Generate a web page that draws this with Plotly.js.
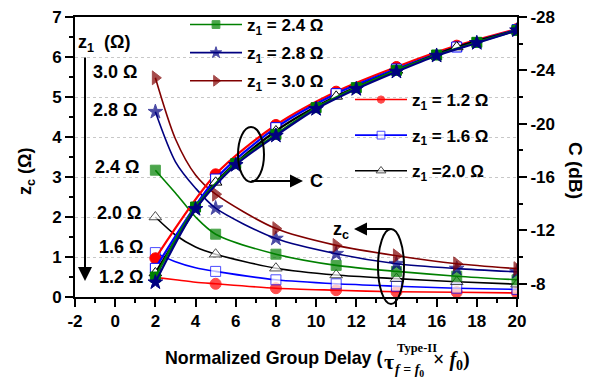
<!DOCTYPE html>
<html><head><meta charset="utf-8">
<script src="https://cdn.plot.ly/plotly-3.0.1.min.js"></script>
<style>html,body{margin:0;padding:0;background:#fff}#chart{width:599px;height:380px}</style>
</head><body><div id="chart"></div>
<script>
// ---- data ----
const zcX = [2, 3, 4, 5, 8, 11, 14, 17, 20];
const zc_12 = [0.49, 0.43, 0.37, 0.33, 0.22, 0.17, 0.13, 0.12, 0.10];
const zc_16 = [1.11, 0.88, 0.73, 0.64, 0.43, 0.33, 0.27, 0.22, 0.19];
const zc_20 = [2.00, 1.55, 1.25, 1.07, 0.72, 0.55, 0.46, 0.38, 0.32];
const zc_24 = [3.17, 2.60, 2.00, 1.57, 1.07, 0.79, 0.64, 0.52, 0.43];
const zc_28 = [4.63, 3.38, 2.72, 2.22, 1.46, 1.08, 0.83, 0.71, 0.63];
const zc_30 = [5.48, 3.95, 3.05, 2.57, 1.71, 1.29, 1.03, 0.83, 0.71];
const zcMarkerShown = [1, 0, 0, 1, 1, 1, 1, 1, 1];

const cX3 = [2, 5, 8, 11, 14, 17, 20];
const c_12 = [-9.9, -16.2, -19.9, -22.4, -24.25, -25.85, -27.1];
const c_16 = [-9.15, -15.85, -19.7, -22.25, -24.1, -25.75, -27.05];
const c_20 = [-8.8, -15.6, -19.45, -22.05, -24.0, -25.75, -27.0];
const cX2 = [2, 4, 6, 8, 10, 12, 14, 16, 18, 20];
const c_24 = [-8.5, -13.75, -17.0, -19.2, -21.2, -22.7, -24.0, -25.15, -26.1, -27.0];
const c_28 = [-8.1, -13.6, -16.9, -19.1, -21.1, -22.6, -23.9, -25.1, -26.05, -27.0];

const seriesNames = ['z<sub>1</sub> = 1.2 Ω', 'z<sub>1</sub> = 1.6 Ω', 'z<sub>1</sub> =2.0 Ω',
                     'z<sub>1</sub> = 2.4 Ω', 'z<sub>1</sub> = 2.8 Ω', 'z<sub>1</sub> = 3.0 Ω'];
const zLabels = ['3.0 Ω', '2.8 Ω', '2.4 Ω', '2.0 Ω', '1.6 Ω', '1.2 Ω'];

const xTickVals = [-2, 0, 2, 4, 6, 8, 10, 12, 14, 16, 18, 20];
const xTickText = ['-2', '0', '2', '4', '6', '8', '10', '12', '14', '16', '18', '20'];
const yTickVals = [0, 1, 2, 3, 4, 5, 6, 7];
const yTickText = ['0', '1', '2', '3', '4', '5', '6', '7'];
const y2TickVals = [-28, -24, -20, -16, -12, -8];
const y2TickText = ['-28', '-24', '-20', '-16', '-12', '-8'];

// ---- styles ----
const colors = ['#FF0000', '#0000FF', '#000000', '#008000', '#000080', '#800000'];
const symbols = ['circle', 'square', 'triangle-up', 'square', 'star', 'triangle-right'];
const fills = ['#FF0000', '#FFFFFF', '#FFFFFF', '#008000', '#000080', '#800000'];
const msz = [11, 10, 11, 10, 11, 12];

const L = 75, T = 17, W = 442, H = 280;
const PX = p => (p - L) / W;
const PY = p => (T + H - p) / H;

const zcSeries = [zc_12, zc_16, zc_20, zc_24, zc_28, zc_30];
const traces = [];
zcSeries.forEach((ys, i) => {
  let sizes = zcMarkerShown.map(s => s ? msz[i] : 0);
  if (i === 0) sizes[0] = 0;
  traces.push({
    x: zcX, y: ys, type: 'scatter', mode: 'lines+markers', name: seriesNames[i],
    line: {color: colors[i], width: 1.6, shape: 'spline', smoothing: 0.8},
    marker: {symbol: symbols[i], size: sizes, color: fills[i], line: {color: colors[i], width: 1}},
    legend: i < 3 ? 'legend2' : 'legend', legendgroup: 'g' + i, showlegend: true,
    xaxis: 'x', yaxis: 'y'
  });
});
const cSeries = [[cX3, c_12, 0], [cX3, c_16, 1], [cX3, c_20, 2], [cX2, c_24, 3], [cX2, c_28, 4]];
cSeries.forEach(([xs, ys, i]) => {
  traces.push({
    x: xs, y: ys, type: 'scatter', mode: 'lines+markers', showlegend: false,
    line: {color: colors[i], width: 2.2, shape: 'spline', smoothing: 0.8},
    marker: {symbol: symbols[i], size: msz[i], color: fills[i], line: {color: colors[i], width: 1}},
    xaxis: 'x', yaxis: 'y2', hoverinfo: 'skip'
  });
});

const SANS = 'Liberation Sans, Arial, sans-serif';
const SERIF = 'Liberation Serif, Times New Roman, serif';
const tickFont = {family: SANS, size: 17, color: '#000', weight: 'bold'};
const bold = {family: SANS, size: 18, color: '#000', weight: 'bold'};
const legFont = {family: SANS, size: 17, color: '#000', weight: 'bold'};

const ann = [];
// z1 (Ω) header
ann.push({xref: 'paper', yref: 'paper', x: PX(76), y: PY(43), xanchor: 'left', yanchor: 'middle',
  text: 'z<sub>1</sub>  (Ω)', showarrow: false, font: bold});
const zLabY = [72, 110, 167, 213, 247, 277];
const zLabX = [115, 115, 117, 119, 121, 121];
zLabels.forEach((t, k) => ann.push({xref: 'paper', yref: 'paper', x: PX(zLabX[k]), y: PY(zLabY[k]),
  xanchor: 'center', yanchor: 'middle', text: t, showarrow: false, font: bold}));
// vertical arrow
ann.push({xref: 'paper', yref: 'paper', x: PX(85), y: PY(281), ax: 0, ay: -225, text: '',
  showarrow: true, arrowhead: 2, arrowsize: 1.4, arrowwidth: 2, arrowcolor: '#000'});
// C arrow + label
ann.push({xref: 'paper', yref: 'paper', x: PX(303), y: PY(181), ax: -53, ay: 0, text: '',
  showarrow: true, arrowhead: 2, arrowsize: 1.3, arrowwidth: 2, arrowcolor: '#000'});
ann.push({xref: 'paper', yref: 'paper', x: PX(308), y: PY(181), xanchor: 'left', yanchor: 'middle',
  text: 'C', showarrow: false, font: bold});
// zc arrow + label
ann.push({xref: 'paper', yref: 'paper', x: PX(354), y: PY(229), ax: 38, ay: 0, text: '',
  showarrow: true, arrowhead: 2, arrowsize: 1.3, arrowwidth: 2, arrowcolor: '#000'});
ann.push({xref: 'paper', yref: 'paper', x: PX(341), y: PY(230), xanchor: 'center', yanchor: 'middle',
  text: 'z<sub>c</sub>', showarrow: false, font: bold});
// axis titles
ann.push({xref: 'paper', yref: 'paper', x: PX(26), y: PY(172), xanchor: 'center', yanchor: 'middle',
  text: 'z<sub>c</sub> (Ω)', textangle: -90, showarrow: false, font: bold});
ann.push({xref: 'paper', yref: 'paper', x: PX(576), y: PY(170), xanchor: 'center', yanchor: 'middle',
  text: 'C (dB)', textangle: 90, showarrow: false, font: {family: SANS, size: 19, color: '#000', weight: 'bold'}});
// x title pieces
ann.push({xref: 'paper', yref: 'paper', x: PX(384), y: PY(358), xanchor: 'right', yanchor: 'middle',
  text: 'Normalized Group Delay (', showarrow: false, font: {family: SANS, size: 17.8, color: '#000', weight: 'bold'}});
ann.push({xref: 'paper', yref: 'paper', x: PX(382), y: PY(361), xanchor: 'left', yanchor: 'middle',
  text: 'τ', showarrow: false, font: {family: SERIF, size: 22, color: '#000'}});
ann.push({xref: 'paper', yref: 'paper', x: PX(395), y: PY(348), xanchor: 'left', yanchor: 'middle',
  text: 'Type-II', showarrow: false, font: {family: SERIF, size: 12.5, color: '#000', weight: 'bold'}});
ann.push({xref: 'paper', yref: 'paper', x: PX(393), y: PY(370), xanchor: 'left', yanchor: 'middle',
  text: '<i>f</i> = <i>f</i><sub>0</sub>', showarrow: false, font: {family: SERIF, size: 14, color: '#000', weight: 'bold'}});
ann.push({xref: 'paper', yref: 'paper', x: PX(431), y: PY(360), xanchor: 'left', yanchor: 'middle',
  text: '× <i>f</i><sub>0</sub>)', showarrow: false, font: {family: SERIF, size: 20, color: '#000', weight: 'bold'}});

const shapes = [
  {type: 'circle', xref: 'paper', yref: 'paper', x0: PX(238), x1: PX(264), y0: PY(182), y1: PY(127),
   line: {color: '#000', width: 2}},
  {type: 'circle', xref: 'paper', yref: 'paper', x0: PX(378), x1: PX(404), y0: PY(304), y1: PY(229),
   line: {color: '#000', width: 2}}
];

const layout = {
  width: 599, height: 380,
  margin: {l: L, r: 599 - L - W, t: T, b: 380 - T - H, autoexpand: false},
  paper_bgcolor: '#fff', plot_bgcolor: '#fff',
  font: bold,
  showlegend: true,
  xaxis: {range: [-2, 20], tickmode: 'array', tickvals: xTickVals, ticktext: xTickText,
    ticks: 'outside', ticklen: 8, tickwidth: 2, tickcolor: '#000', tickfont: tickFont,
    showline: true, linewidth: 2, linecolor: '#000', mirror: true, showgrid: false, zeroline: false,
    minor: {tickmode: 'linear', tick0: 0, dtick: 1, ticks: 'outside', ticklen: 4, tickwidth: 2, tickcolor: '#000', showgrid: false}},
  yaxis: {range: [0, 7], tickmode: 'array', tickvals: yTickVals, ticktext: yTickText,
    ticks: 'outside', ticklen: 8, tickwidth: 2, tickcolor: '#000', tickfont: tickFont,
    showline: true, linewidth: 2, linecolor: '#000', showgrid: true, gridcolor: '#c8c8c8', griddash: 'dot', gridwidth: 1,
    zeroline: false,
    minor: {tickmode: 'linear', tick0: 0, dtick: 0.5, ticks: 'outside', ticklen: 4, tickwidth: 2, tickcolor: '#000', showgrid: false}},
  yaxis2: {range: [-7, -28], overlaying: 'y', side: 'right', tickmode: 'array', tickvals: y2TickVals, ticktext: y2TickText,
    ticks: 'outside', ticklen: 8, tickwidth: 2, tickcolor: '#000', tickfont: tickFont,
    showline: true, linewidth: 2, linecolor: '#000', showgrid: false, zeroline: false,
    minor: {tickmode: 'linear', tick0: 0, dtick: 2, ticks: 'outside', ticklen: 4, tickwidth: 2, tickcolor: '#000', showgrid: false}},
  legend: {x: PX(185), y: PY(7), xanchor: 'left', yanchor: 'top', bgcolor: 'rgba(0,0,0,0)',
    font: legFont, tracegroupgap: 3, traceorder: 'grouped', itemwidth: 52},
  legend2: {x: PX(350), y: PY(82), xanchor: 'left', yanchor: 'top', bgcolor: 'rgba(0,0,0,0)',
    font: legFont, tracegroupgap: 10.5, traceorder: 'grouped', itemwidth: 52},
  annotations: ann,
  shapes: shapes
};

Plotly.newPlot('chart', traces, layout, {staticPlot: true, displayModeBar: false});
</script></body></html>
